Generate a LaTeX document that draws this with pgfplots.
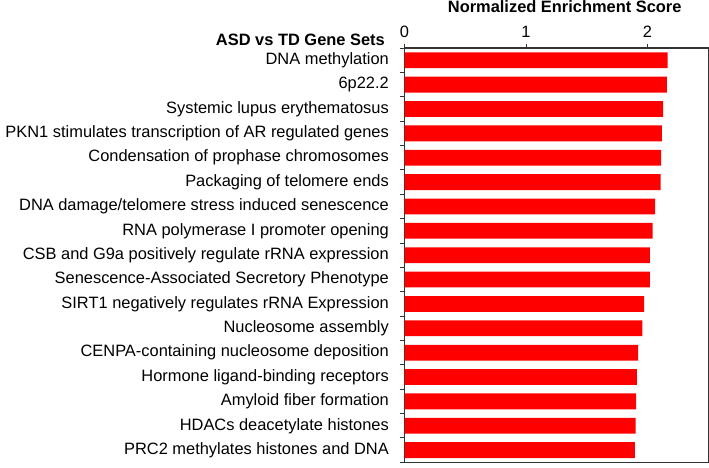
\documentclass[border=0pt]{standalone}
\usepackage{pgfplots}
\pgfplotsset{compat=1.18}
\usepackage{fontspec}
\setmainfont{Liberation Sans}
\begin{document}
\fontsize{16.4}{19}\selectfont
\begin{tikzpicture}
\begin{axis}[
  xbar,
  scale only axis,
  width=303.4pt, height=413.7pt,
  xmin=0, xmax=2.5,
  ymin=0.5, ymax=17.5,
  y dir=reverse,
  xtick={0,1,2},
  xtick pos=upper,
  ytick pos=left,
  xticklabel pos=upper,
  tick align=outside,
  major tick length=4.5pt,
  ytick={0.5,1.5,...,17.5},
  yticklabels={},
  extra y ticks={1,2,...,17},
  extra y tick style={major tick length=0pt, yticklabel style={xshift=-10pt}},
  extra y tick labels={{DNA methylation},{6p22.2},{Systemic lupus erythematosus},{PKN1 stimulates transcription of AR regulated genes},{Condensation of prophase chromosomes},{Packaging of telomere ends},{DNA damage/telomere stress induced senescence},{RNA polymerase I promoter opening},{CSB and G9a positively regulate rRNA expression},{Senescence-Associated Secretory Phenotype},{SIRT1 negatively regulates rRNA Expression},{Nucleosome assembly},{CENPA-containing nucleosome deposition},{Hormone ligand-binding receptors},{Amyloid fiber formation},{HDACs deacetylate histones},{PRC2 methylates histones and DNA}},
  /pgf/number format/assume math mode=true,
  ticklabel style={font=\fontsize{16.4}{19}\selectfont},
  axis line style={draw=black!80, line width=1.4pt},
  tick style={line width=1pt, black!80},
  bar width=15.8pt,
  clip=false,
]
\addplot[fill=red, draw=none] coordinates {
(2.165,1) (2.159,2) (2.129,3) (2.118,4) (2.112,5) (2.107,6) (2.063,7) (2.041,8) (2.019,9) (2.019,10) (1.972,11) (1.958,12) (1.923,13) (1.912,14) (1.906,15) (1.901,16) (1.895,17)
};
\fill[black!80] ([xshift=-0.7pt,yshift=0.7pt]axis cs:0,0.5) rectangle ([xshift=0.7pt,yshift=-0.7pt]axis cs:2.5,0.5);
\fill[black!80] ([xshift=-0.7pt,yshift=0.7pt]axis cs:0,17.5) rectangle ([xshift=0.7pt,yshift=-0.7pt]axis cs:2.5,17.5);
\fill[black!80] ([xshift=-0.7pt,yshift=0.7pt]axis cs:2.5,0.5) rectangle ([xshift=0.7pt,yshift=-0.7pt]axis cs:2.5,17.5);
\coordinate (tl) at (axis cs:0,0.5);
\end{axis}
\node[font=\bfseries\fontsize{16.4}{19}\selectfont, anchor=center, inner sep=1pt] at ([xshift=160pt, yshift=41pt]tl) {Normalized Enrichment Score};
\node[font=\bfseries\fontsize{16.4}{19}\selectfont, anchor=east] at ([xshift=-14pt, yshift=8pt]tl) {ASD vs TD Gene Sets};
\end{tikzpicture}
\end{document}
